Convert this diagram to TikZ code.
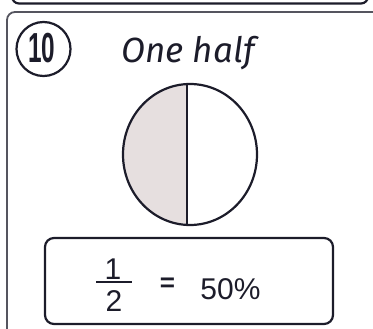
\documentclass[tikz,border=0pt]{standalone}
\usepackage{fontspec}
\setmainfont{Liberation Sans}
\newfontfamily\handfont{Fira Sans}
\usetikzlibrary{shapes.geometric}
\definecolor{ink}{HTML}{1C1C2A}
\definecolor{halfgrey}{HTML}{E6DFDF}
\tikzset{
  pen/.style={draw=ink, line width=2.2pt},
  txt/.style={inner sep=0pt, text=ink},
}
\begin{document}
\begin{tikzpicture}[x=1pt,y=-1pt]
\useasboundingbox (0,0) rectangle (373,329);
\clip (0,0) rectangle (373,329);
% upper neighbouring box
\draw[pen, rounded corners=7pt] (12,-12) -- (12,3.5) -- (368,3.5) -- (368,-12);
% main card
\draw[pen, draw=ink!75, line width=1.8pt, rounded corners=8pt] (7,345) -- (7,12) -- (382,12) -- (382,345);
% number in circle
\node[circle, pen, minimum size=54pt, inner sep=0pt] (ten) at (43.5,49) {};
\node[txt, font=\bfseries\fontsize{42}{42}\selectfont] (tenlbl) at (42,48) {\scalebox{0.58}[1]{10}};
% title
\node[txt, font=\handfont\itshape\fontsize{35}{35}\selectfont, anchor=base] (title) at (188,63) {One half};
% circle split in half
\fill[fill=halfgrey] (187,84) arc[start angle=-92, end angle=-268, x radius=67, y radius=70.5] -- cycle;
\node[ellipse, pen, minimum width=134pt, minimum height=141pt, inner sep=0pt] (disc) at (190,154.5) {};
\coordinate (dtop) at (187,84);
\coordinate (dbot) at (187,225);
\draw[pen] (dtop) -- (dbot);
% result box
\node[draw=ink, line width=2.2pt, rounded corners=9pt, minimum width=288pt, minimum height=86pt] (res) at (189,281) {};
\node[txt, font=\fontsize{30}{30}\selectfont] (num) at (113,269) {1};
\node[txt, font=\fontsize{30}{30}\selectfont] (den) at (114,301) {2};
\coordinate (barl) at (96,282);
\coordinate (barr) at (132,282);
\draw[draw=ink, line width=1.8pt] (barl) -- (barr);
\node[txt, font=\bfseries\fontsize{26}{26}\selectfont] (eq) at (167.5,285) {=};
\node[txt, font=\fontsize{30}{30}\selectfont] (pct) at (230.5,289) {50\%};
\end{tikzpicture}
\end{document}
